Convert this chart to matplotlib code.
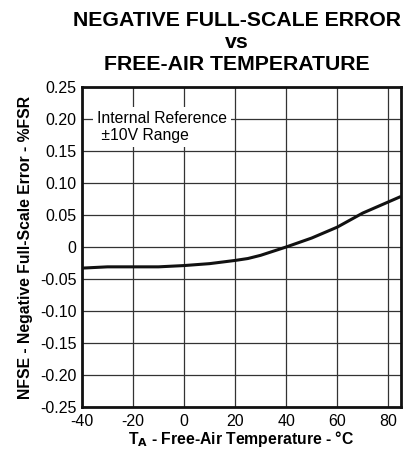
import matplotlib
matplotlib.use("Agg")
import matplotlib.pyplot as plt

temp = [-40, -30, -20, -10, 0, 10, 20, 25, 30, 40, 50, 60, 70, 85]
nfse = [-0.033, -0.031, -0.031, -0.031, -0.029, -0.026, -0.021, -0.018, -0.013, 0.0, 0.014, 0.031, 0.053, 0.079]
xticks = [-40, -20, 0, 20, 40, 60, 80]
yticks = [-0.25, -0.20, -0.15, -0.10, -0.05, 0, 0.05, 0.10, 0.15, 0.20, 0.25]
ytick_labels = ["-0.25", "-0.20", "-0.15", "-0.10", "-0.05", "0", "0.05", "0.10", "0.15", "0.20", "0.25"]

plt.rcParams['font.family'] = ['Liberation Sans', 'DejaVu Sans']

fig = plt.figure(figsize=(4.04, 4.5), dpi=100)
ax = fig.add_axes([82/404, 1 - 407/450, (401-82)/404, (407-87)/450])

ax.plot(temp, nfse, color='#111111', lw=2.2, solid_capstyle='butt', zorder=3)
ax.set_xlim(-40, 85)
ax.set_ylim(-0.25, 0.25)
ax.set_xticks(xticks)
ax.set_xticklabels([str(t) for t in xticks], fontsize=11.5)
ax.set_yticks(yticks)
ax.set_yticklabels(ytick_labels, fontsize=11.5)
ax.tick_params(axis='x', length=0, pad=5)
ax.tick_params(axis='y', length=0, pad=4)
ax.grid(True, color='#333333', lw=0.9)
for s in ax.spines.values():
    s.set_linewidth(2)
    s.set_color('#111111')

ax.text(-34.2, 0.1875, "Internal Reference\n ±10V Range", fontsize=11.3, va='center', ha='left',
        linespacing=1.15, bbox=dict(facecolor='white', edgecolor='none', pad=3), zorder=4)

ax.set_xlabel(r"T$_\mathbf{A}$ - Free-Air Temperature - °C", fontsize=11.3, fontweight='bold', labelpad=0)
ax.set_ylabel("NFSE - Negative Full-Scale Error - %FSR", fontsize=11.3, fontweight='bold', labelpad=5)

fig.text(237/404, 1 - 20/450, "NEGATIVE FULL-SCALE ERROR", fontsize=15.3, fontweight='bold', ha='center', va='center')
fig.text(237/404, 1 - 42/450, "vs", fontsize=15.3, fontweight='bold', ha='center', va='center')
fig.text(237/404, 1 - 64/450, "FREE-AIR TEMPERATURE", fontsize=15.3, fontweight='bold', ha='center', va='center')

fig.savefig("out.png", dpi=100)
